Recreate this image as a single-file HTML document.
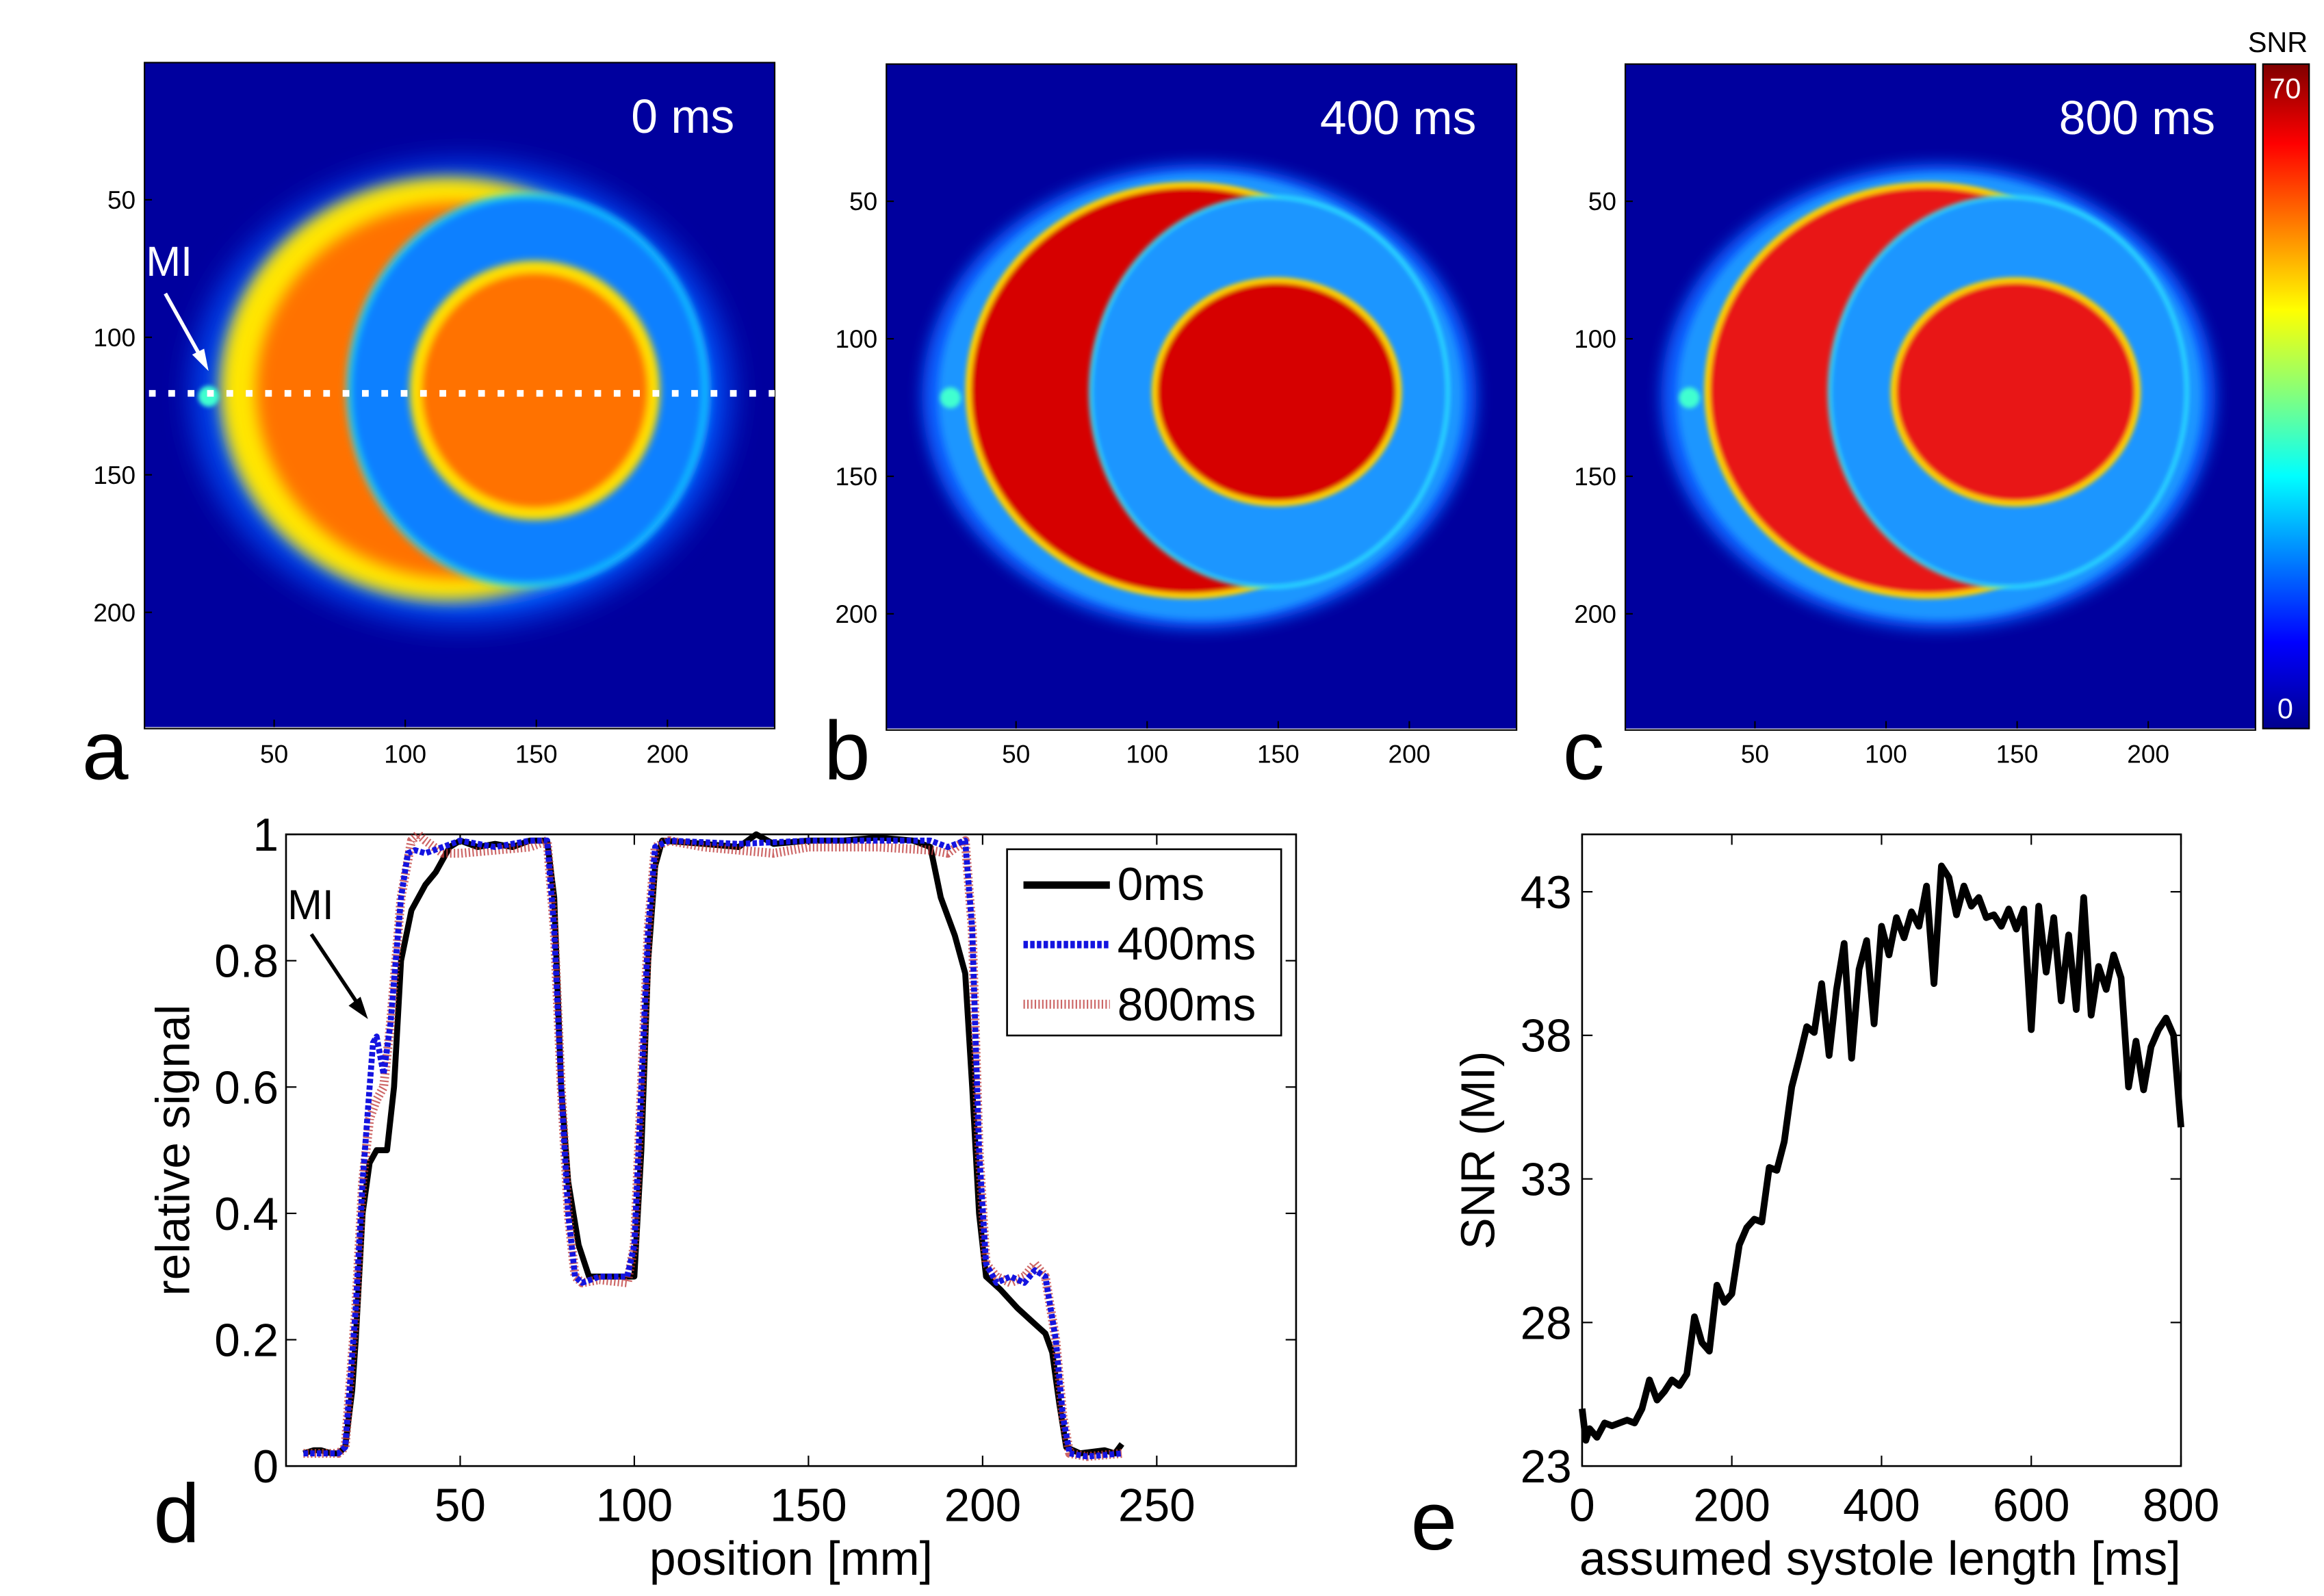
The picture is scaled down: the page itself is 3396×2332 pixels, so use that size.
<!DOCTYPE html>
<html><head><meta charset="utf-8"><style>
html,body{margin:0;padding:0;background:#fff;}
svg{display:block;font-family:"Liberation Sans",Arial,sans-serif;}
</style></head><body>
<svg id="fig" width="3396" height="2332" viewBox="0 0 1560 1071.2" xmlns="http://www.w3.org/2000/svg">
<defs>
<filter id="b8" x="-20%" y="-20%" width="140%" height="140%"><feGaussianBlur stdDeviation="9"/></filter>
<filter id="b5" x="-20%" y="-20%" width="140%" height="140%"><feGaussianBlur stdDeviation="5"/></filter>
<filter id="b3" x="-20%" y="-20%" width="140%" height="140%"><feGaussianBlur stdDeviation="2.5"/></filter>
<filter id="b2" x="-20%" y="-20%" width="140%" height="140%"><feGaussianBlur stdDeviation="1.5"/></filter>
<linearGradient id="jet" x1="0" y1="0" x2="0" y2="1">
<stop offset="0" stop-color="#800000"/><stop offset="0.12" stop-color="#ff0000"/><stop offset="0.37" stop-color="#ffff00"/><stop offset="0.5" stop-color="#80ff80"/><stop offset="0.62" stop-color="#00ffff"/><stop offset="0.87" stop-color="#0000ff"/><stop offset="1" stop-color="#00008f"/>
</linearGradient>
<clipPath id="ca"><rect x="97" y="42" width="423" height="446"/></clipPath>
<clipPath id="cb"><rect x="595" y="43" width="423" height="446"/></clipPath>
<clipPath id="cc"><rect x="1091" y="43" width="423" height="446"/></clipPath>
</defs>
<g id="panels"></g>
<g id="plots"></g>
</svg>
<script>
var NS="http://www.w3.org/2000/svg";
var svg=document.getElementById('fig');
function mk(tag,attrs,parent){var e=document.createElementNS(NS,tag);for(var k in attrs)e.setAttribute(k,attrs[k]);(parent||svg).appendChild(e);return e;}
function txt(s,attrs,parent){var e=mk('text',attrs,parent);e.textContent=s;return e;}

/* ===== Data ===== */
var imgTitles=["0 ms","400 ms","800 ms"];
var imgLetters=["a","b","c"];
var imgTicks=[50,100,150,200];
var dTicksX=[50,100,150,200,250];
var dTicksY=[0,0.2,0.4,0.6,0.8,1];
var dTickLabelsY=["0","0.2","0.4","0.6","0.8","1"];
var pos0=[5,8,10,13,15,17,19,20,22,24,26,29,31,33,36,40,43,47,50,55,60,65,70,75,77,79,81,84,87,95,100,102,104,106,108,120,130,135,140,150,160,170,180,185,188,192,195,197,199,201,205,210,214,218,220,222,224,228,235,238,240];
var sig0=[0.02,0.025,0.025,0.02,0.02,0.03,0.12,0.2,0.4,0.48,0.5,0.5,0.6,0.8,0.88,0.92,0.94,0.98,0.99,0.98,0.985,0.98,0.99,0.99,0.9,0.6,0.45,0.35,0.3,0.3,0.3,0.5,0.8,0.95,0.99,0.985,0.98,1.0,0.985,0.99,0.99,0.995,0.99,0.98,0.9,0.84,0.78,0.6,0.4,0.3,0.28,0.25,0.23,0.21,0.18,0.1,0.03,0.02,0.025,0.02,0.035];
var pos400=[5,10,15,17,20,22,24,25,26,28,30,33,35,37,40,45,50,60,70,75,77,79,81,83,85,90,98,100,102,104,106,110,130,150,170,185,190,195,197,199,201,204,208,212,215,218,221,223,225,230,240];
var sig400=[0.02,0.02,0.02,0.03,0.25,0.45,0.6,0.67,0.68,0.62,0.7,0.9,0.97,0.975,0.97,0.98,0.99,0.98,0.99,0.99,0.85,0.6,0.4,0.3,0.29,0.3,0.3,0.35,0.6,0.85,0.98,0.99,0.985,0.99,0.99,0.99,0.98,0.99,0.85,0.5,0.32,0.29,0.3,0.29,0.31,0.3,0.2,0.08,0.02,0.015,0.02];
var pos800=[5,10,15,17,20,22,24,26,28,30,33,36,38,40,45,50,60,70,75,77,79,81,83,85,90,98,100,102,104,106,110,120,130,140,150,170,185,190,195,197,199,201,204,208,212,215,218,221,223,225,230,240];
var sig800=[0.02,0.02,0.02,0.03,0.25,0.45,0.55,0.58,0.6,0.7,0.9,0.99,1.0,0.99,0.97,0.97,0.975,0.98,0.99,0.85,0.6,0.4,0.3,0.29,0.295,0.29,0.35,0.6,0.85,0.98,0.99,0.98,0.975,0.97,0.98,0.98,0.975,0.97,0.99,0.85,0.5,0.32,0.3,0.29,0.3,0.32,0.3,0.2,0.08,0.02,0.015,0.02];
var eTicksX=[0,200,400,600,800];
var eTicksY=[23,28,33,38,43];
var sysLen=[0,5,10,20,30,40,50,60,70,80,90,100,110,120,130,140,150,160,170,180,190,200,210,220,230,240,250,260,270,280,290,300,310,320,330,340,350,360,370,380,390,400,410,420,430,440,450,460,470,480,490,500,510,520,530,540,550,560,570,580,590,600,610,620,630,640,650,660,670,680,690,700,710,720,730,740,750,760,770,780,790,800];
var snrMI=[25,23.9,24.3,24.0,24.5,24.4,24.5,24.6,24.5,25,26,25.3,25.6,26,25.8,26.2,28.2,27.3,27,29.3,28.7,29,30.7,31.3,31.6,31.5,33.4,33.3,34.3,36.2,37.2,38.3,38.1,39.8,37.3,39.6,41.2,37.2,40.3,41.3,38.4,41.8,40.8,42.1,41.4,42.3,41.8,43.2,39.8,43.9,43.5,42.2,43.2,42.5,42.8,42.1,42.2,41.8,42.4,41.7,42.4,38.2,42.5,40.2,42.1,39.2,41.5,38.9,42.8,38.7,40.4,39.6,40.8,40,36.2,37.8,36.1,37.6,38.2,38.6,38,34.8];

/* ===== Image panels ===== */
var panels=document.getElementById('panels');
var offs=[[0,0],[498,1],[994,1]];
var clips=['ca','cb','cc'];
var crescentCol=['#ff7200','#d60000','#e81212'];
offs.forEach(function(o,i){
  var dx=o[0],dy=o[1];
  var g=mk('g',{'clip-path':'url(#'+clips[i]+')'},panels);
  
  
  mk('rect',{x:97+dx,y:42+dy,width:423,height:447,fill:'#00009e'},g);
  var cx=function(v){return v+dx;}, cy=function(v){return v+dy;};
  if(i===0){
    mk('ellipse',{cx:cx(310),cy:cy(264),rx:182,ry:156,fill:'#0040e8',filter:'url(#b8)'},g);
    mk('ellipse',{cx:cx(312),cy:cy(264),rx:166,ry:144,fill:'#0a66ff',filter:'url(#b5)'},g);
    mk('ellipse',{cx:cx(300),cy:cy(261),rx:152,ry:142,fill:'#ffe600',filter:'url(#b5)'},g);
    mk('ellipse',{cx:cx(306),cy:cy(262),rx:134,ry:126,fill:'#ff7200',filter:'url(#b5)'},g);
    mk('ellipse',{cx:cx(354),cy:cy(262),rx:120,ry:131,fill:'#0a80ff',stroke:'#20e8ff','stroke-width':4,'stroke-opacity':0.7,filter:'url(#b3)'},g);
    mk('ellipse',{cx:cx(359),cy:cy(262),rx:80,ry:83,fill:'#ff7200',stroke:'#ffe000','stroke-width':8,filter:'url(#b3)'},g);
  } else {
    mk('ellipse',{cx:cx(307),cy:cy(265),rx:186,ry:156,fill:'#0a60ff',filter:'url(#b5)'},g);
    mk('ellipse',{cx:cx(308),cy:cy(265),rx:176,ry:150,fill:'#1a96ff',filter:'url(#b3)'},g);
    mk('ellipse',{cx:cx(300),cy:cy(261),rx:148,ry:138,fill:crescentCol[i],stroke:'#ffd000','stroke-width':4,filter:'url(#b2)'},g);
    mk('ellipse',{cx:cx(354),cy:cy(262),rx:120,ry:131,fill:'#1a96ff',stroke:'#30f0ff','stroke-width':3,'stroke-opacity':0.7,filter:'url(#b2)'},g);
    mk('ellipse',{cx:cx(359),cy:cy(262),rx:82,ry:75,fill:crescentCol[i],stroke:'#ffd000','stroke-width':4,filter:'url(#b2)'},g);
  }
  mk('circle',{cx:cx(140),cy:cy(266),r:7,fill:'#40ffd0',filter:'url(#b2)'},g);
  mk('rect',{x:97+dx,y:42+dy,width:423,height:447,fill:'none',stroke:'#000','stroke-width':1},panels);
  var t=txt(imgTitles[i],{x:493+dx,y:89+dy,'font-size':32,fill:'#fff','text-anchor':'end'},panels);
  
  
  var L=txt(imgLetters[i],{x:55+dx,y:523,'font-size':56,fill:'#000'},panels);
  
  
  imgTicks.forEach(function(v){
    var x=96.9+dx+(v-0.5)*1.76, y=42.7+dy+(v-0.5)*1.846;
    txt(String(v),{x:x,y:512,'font-size':17,'text-anchor':'middle'},panels);
    txt(String(v),{x:91+dx,y:y+6,'font-size':17,'text-anchor':'end'},panels);
    mk('line',{x1:x,y1:488+dy,x2:x,y2:483+dy,stroke:'#000'},panels);
    mk('line',{x1:97+dx,y1:y,x2:102+dx,y2:y,stroke:'#000'},panels);
  });
});
var dl=mk('line',{x1:100,y1:264,x2:520,y2:264,stroke:'#fff','stroke-width':4.5,'stroke-dasharray':'4.5,8.5'},panels);


txt('MI',{x:98,y:185,'font-size':28,fill:'#fff'},panels);
mk('line',{x1:111,y1:197,x2:135,y2:240,stroke:'#fff','stroke-width':2.5},panels);
mk('path',{d:'M140,249 L129,238 L137,234 Z',fill:'#fff'},panels);
var cb=mk('rect',{x:1519,y:43,width:31,height:446,fill:'url(#jet)',stroke:'#000','stroke-width':1},panels);


txt('SNR',{x:1529,y:35,'font-size':19,'text-anchor':'middle'},panels);
txt('70',{x:1534,y:66,'font-size':19,fill:'#fff','text-anchor':'middle'},panels);
txt('0',{x:1534,y:482,'font-size':19,fill:'#fff','text-anchor':'middle'},panels);

/* ===== Plot d ===== */
var plots=document.getElementById('plots');
var dX0=192,dX1=870,dY0=560,dY1=984;
function dx(v){return dX0+(v/290)*(dX1-dX0);}
function dy(v){return dY1-v*(dY1-dY0);}
var dAx=mk('rect',{x:dX0,y:dY0,width:dX1-dX0,height:dY1-dY0,fill:'#fff',stroke:'#000','stroke-width':1.2},plots);


dTicksX.forEach(function(v){var x=dx(v);
  mk('line',{x1:x,y1:dY1,x2:x,y2:dY1-7,stroke:'#000'},plots);
  mk('line',{x1:x,y1:dY0,x2:x,y2:dY0+7,stroke:'#000'},plots);
  txt(String(v),{x:x,y:1021,'font-size':31,'text-anchor':'middle'},plots);});
dTicksY.forEach(function(v,i){var y=dy(v);
  mk('line',{x1:dX0,y1:y,x2:dX0+7,y2:y,stroke:'#000'},plots);
  mk('line',{x1:dX1,y1:y,x2:dX1-7,y2:y,stroke:'#000'},plots);
  txt(dTickLabelsY[i],{x:187,y:y+11,'font-size':31,'text-anchor':'end'},plots);});
function poly(xs,ys,fx,fy){return xs.map(function(v,i){return fx(v).toFixed(1)+','+fy(ys[i]).toFixed(1);}).join(' ');}
var l0=mk('polyline',{points:poly(pos0,sig0,dx,dy),fill:'none',stroke:'#000','stroke-width':4,'stroke-linejoin':'round'},plots);


var l8=mk('polyline',{points:poly(pos800,sig800,dx,dy),fill:'none',stroke:'#c04040','stroke-width':6,'stroke-dasharray':'1,1.5','stroke-linejoin':'round',opacity:0.8},plots);


var l4=mk('polyline',{points:poly(pos400,sig400,dx,dy),fill:'none',stroke:'#1414e0','stroke-width':4,'stroke-dasharray':'3,1.5','stroke-linejoin':'round'},plots);


var lg=mk('g',{},plots);


mk('rect',{x:676,y:570,width:184,height:125,fill:'#fff',stroke:'#000','stroke-width':1.2},lg);
mk('line',{x1:687,y1:594,x2:745,y2:594,stroke:'#000','stroke-width':5},lg);
txt('0ms',{x:750,y:604,'font-size':31},lg);
mk('line',{x1:687,y1:634,x2:745,y2:634,stroke:'#1414e0','stroke-width':5,'stroke-dasharray':'3,1.5'},lg);
txt('400ms',{x:750,y:644,'font-size':31},lg);
mk('line',{x1:687,y1:674,x2:745,y2:674,stroke:'#c04040','stroke-width':6,'stroke-dasharray':'1,1.5',opacity:0.8},lg);
txt('800ms',{x:750,y:685,'font-size':31},lg);
txt('MI',{x:193,y:617,'font-size':28},plots);
mk('line',{x1:209,y1:627,x2:241,y2:675,stroke:'#000','stroke-width':2.5},plots);
mk('path',{d:'M247,684 L234,675 L242,669 Z',fill:'#000'},plots);
txt('position [mm]',{x:531,y:1057,'font-size':32,'text-anchor':'middle'},plots);
txt('relative signal',{x:0,y:0,'font-size':32,'text-anchor':'middle',transform:'translate(127,772) rotate(-90)'},plots);
txt('d',{x:103,y:1035,'font-size':56},plots);

/* ===== Plot e ===== */
var eX0=1062,eX1=1464,eY0=560,eY1=984;
function ex(v){return eX0+(v/800)*(eX1-eX0);}
function ey(v){return eY1-(v-23)/22*(eY1-eY0);}
var eAx=mk('rect',{x:eX0,y:eY0,width:eX1-eX0,height:eY1-eY0,fill:'#fff',stroke:'#000','stroke-width':1.2},plots);


eTicksX.forEach(function(v){var x=ex(v);
  mk('line',{x1:x,y1:eY1,x2:x,y2:eY1-7,stroke:'#000'},plots);
  mk('line',{x1:x,y1:eY0,x2:x,y2:eY0+7,stroke:'#000'},plots);
  txt(String(v),{x:x,y:1021,'font-size':31,'text-anchor':'middle'},plots);});
eTicksY.forEach(function(v){var y=ey(v);
  mk('line',{x1:eX0,y1:y,x2:eX0+7,y2:y,stroke:'#000'},plots);
  mk('line',{x1:eX1,y1:y,x2:eX1-7,y2:y,stroke:'#000'},plots);
  txt(String(v),{x:1055,y:y+11,'font-size':31,'text-anchor':'end'},plots);});
var le=mk('polyline',{points:poly(sysLen,snrMI,ex,ey),fill:'none',stroke:'#000','stroke-width':4.5,'stroke-linejoin':'round'},plots);


txt('assumed systole length [ms]',{x:1262,y:1057,'font-size':32,'text-anchor':'middle'},plots);
txt('SNR (MI)',{x:0,y:0,'font-size':32,'text-anchor':'middle',transform:'translate(1003,772) rotate(-90)'},plots);
txt('e',{x:947,y:1040,'font-size':56},plots);
</script>
</body></html>
